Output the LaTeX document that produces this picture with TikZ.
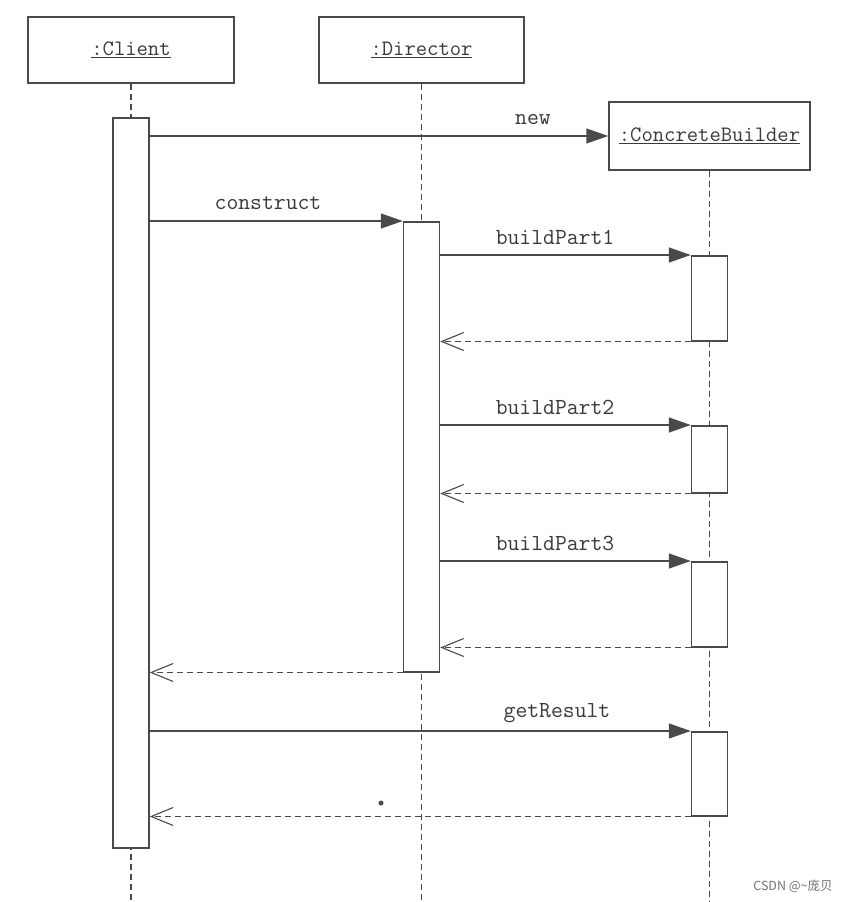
\documentclass[tikz,border=0pt]{standalone}
\usepackage{fontspec}
\newfontfamily\cjk{Noto Sans CJK SC}
\usetikzlibrary{arrows.meta}
\definecolor{ln}{HTML}{4A4A4A}
\definecolor{tx}{HTML}{3A3A3A}
\begin{document}
\begin{tikzpicture}[x=1pt,y=-1pt,
  lifebox/.style={draw=ln,line width=1.5pt,fill=white,inner sep=0pt,font=\ttfamily\fontsize{22}{24}\selectfont,text=tx},
  actbox/.style={draw=ln,line width=1.5pt,fill=white,inner sep=0pt,minimum width=36pt,anchor=north},
  lifeline/.style={draw=ln,line width=1.1pt,dash pattern=on 6pt off 4pt},
  msg/.style={draw=ln,line width=1.5pt,-{Triangle[length=22pt,width=15pt]}},
  ret/.style={draw=ln,line width=1.1pt,dash pattern=on 6pt off 4pt,-{Straight Barb[length=22pt,width=18pt,line width=1.1pt]}},
  lbl/.style={font=\ttfamily\fontsize{23}{25}\selectfont,text=tx,inner sep=0pt}]
\useasboundingbox[fill=white] (0,0) rectangle (849,902);
% header boxes
\node[lifebox,minimum width=206pt,minimum height=66pt] (cl) at (131,50) {\underline{:Client}};
\node[lifebox,minimum width=205pt,minimum height=66pt] (di) at (421.5,50) {\underline{:Director}};
\node[lifebox,minimum width=201pt,minimum height=68pt] (cb) at (709.5,136) {\underline{:ConcreteBuilder}};
% lifeline ends
\coordinate (clE) at (131,902);
\coordinate (diE) at (421.5,902);
\coordinate (cbE) at (709.5,902);
\draw[lifeline] (cl.south) -- (clE);
\draw[lifeline] (di.south) -- (diE);
\draw[lifeline] (cb.south) -- (cbE);
% activations
\node[actbox,minimum height=730pt] (ca) at (131,117) {};
\node[actbox,minimum height=450pt] (da) at (421.5,221) {};
\node[actbox,minimum height=85pt] (b1) at (709.5,255) {};
\node[actbox,minimum height=67pt] (b2) at (709.5,425) {};
\node[actbox,minimum height=85pt] (b3) at (709.5,561) {};
\node[actbox,minimum height=84pt] (b4) at (709.5,731) {};
% messages
\draw[msg] (ca.east |- cb.west) -- (cb.west);
\node[lbl] (lnew) at (533,120) {new};
\draw[msg] (ca.east |- da.north) -- (da.north west);
\node[lbl] (lcon) at (268,203) {construct};
\draw[msg] (da.east |- b1.north) -- (b1.north west);
\node[lbl] (lb1) at (555,237) {buildPart1};
\draw[ret] (b1.south west) -- (da.east |- b1.south);
\draw[msg] (da.east |- b2.north) -- (b2.north west);
\node[lbl] (lb2) at (555,407) {buildPart2};
\draw[ret] (b2.south west) -- (da.east |- b2.south);
\draw[msg] (da.east |- b3.north) -- (b3.north west);
\node[lbl] (lb3) at (555,543) {buildPart3};
\draw[ret] (b3.south west) -- (da.east |- b3.south);
\draw[ret] (da.south west) -- (ca.east |- da.south);
\draw[msg] (ca.east |- b4.north) -- (b4.north west);
\node[lbl] (lgr) at (557,713) {getResult};
\draw[ret] (b4.south west) -- (ca.east |- b4.south);
% speck
\fill[ln] (381,803) circle (2.5pt);
% watermark
\node[font=\cjk\fontsize{12.5}{14}\selectfont,text=black!55,inner sep=0pt] (wm) at (793,886) {CSDN @\textasciitilde 庞贝};
\end{tikzpicture}
\end{document}
